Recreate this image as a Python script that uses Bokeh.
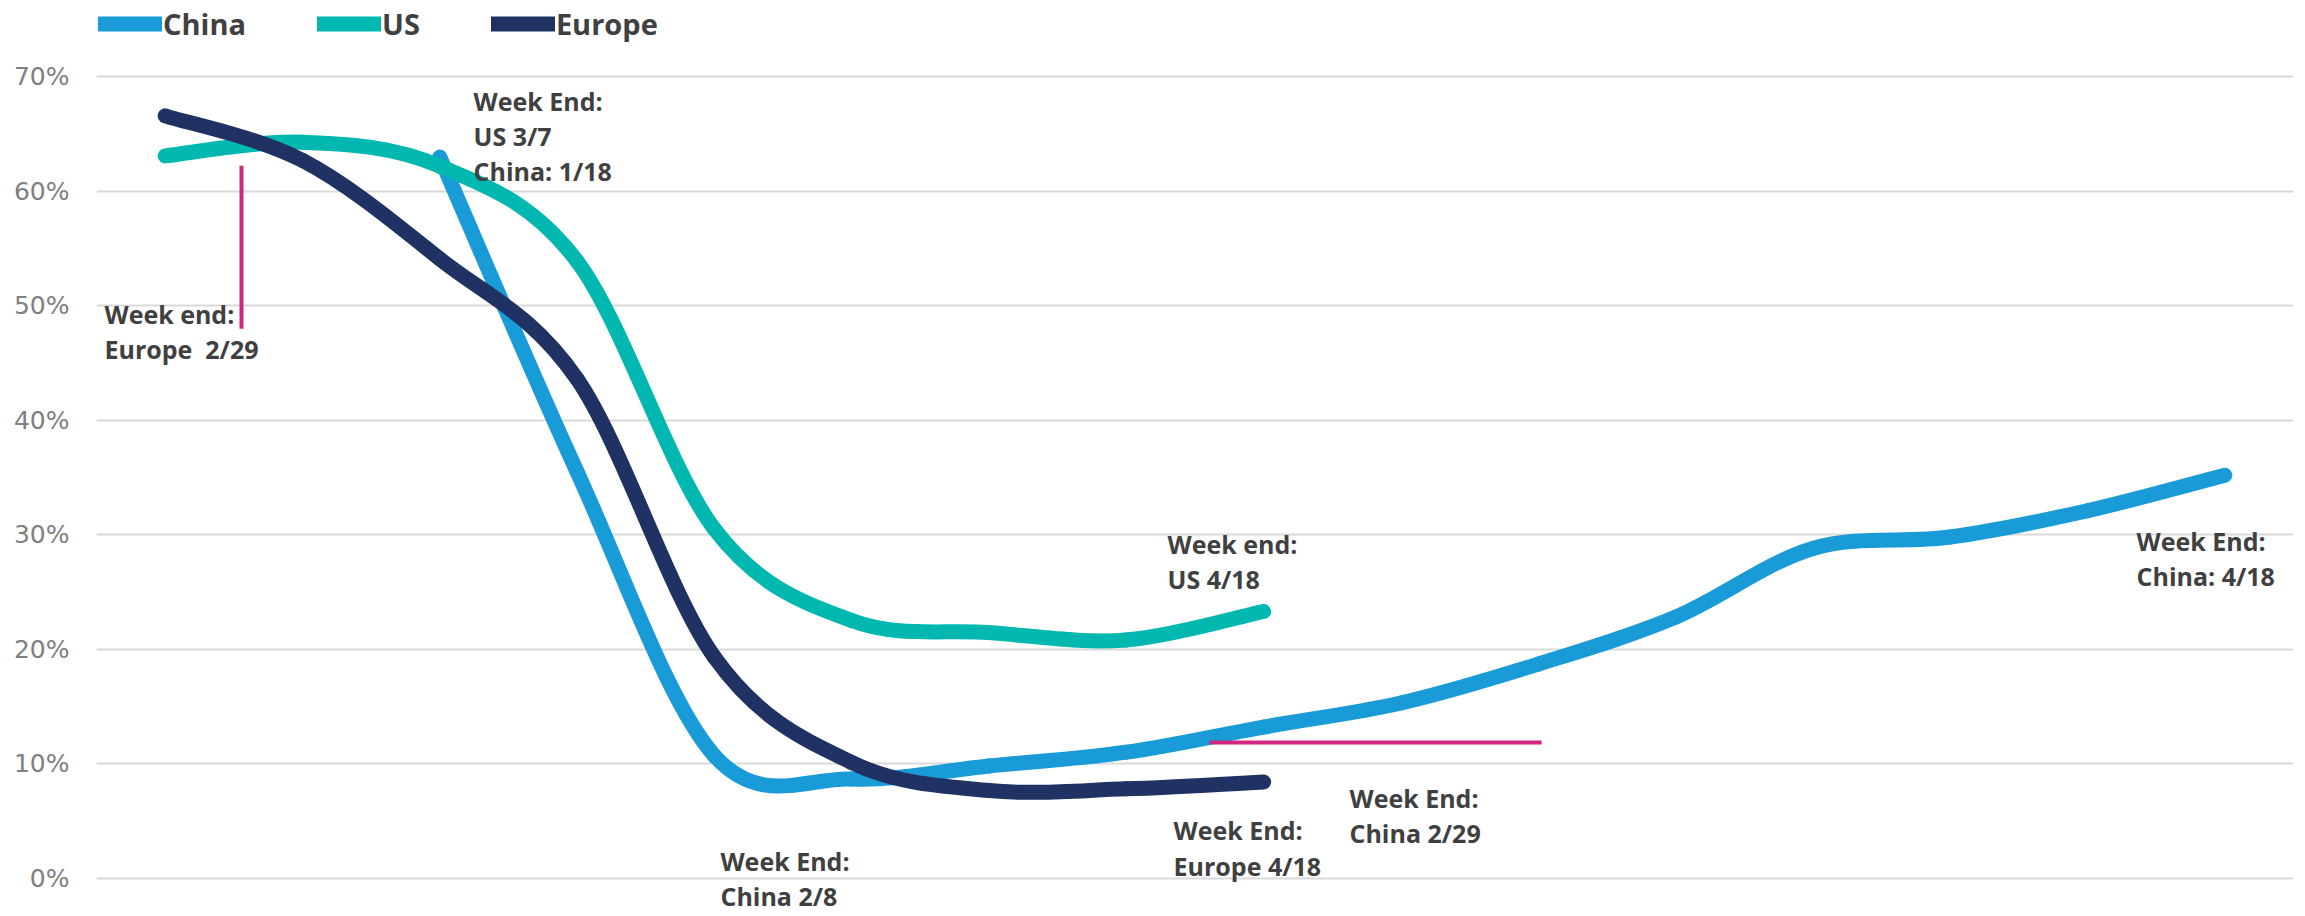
from bokeh.plotting import figure
from bokeh.models import (Range1d, FixedTicker, NumeralTickFormatter, Label,
                          Legend, LegendItem)
from bokeh.embed import file_html
from bokeh.resources import INLINE

# Weekly share, one slot per week on a shared category axis
weeks = list(range(16))
china = [None, None, 0.630, 0.355, 0.107, 0.0865, 0.098, 0.110, 0.132, 0.153,
         0.187, 0.228, 0.288, 0.298, 0.321, 0.352]
us = [0.631, 0.643, 0.622, 0.539, 0.305, 0.225, 0.2145, 0.208, 0.233]
europe = [0.666, 0.627, 0.541, 0.436, 0.193, 0.101, 0.0765, 0.078, 0.084]

series_names = ["China", "US", "Europe"]
series_colors = ["#189bd6", "#00b8b0", "#203264"]
y_ticks = [0.0, 0.1, 0.2, 0.3, 0.4, 0.5, 0.6, 0.7]

# Callout texts: (x, first baseline, lines)
callouts = [
    (2.246, 0.6793, ["Week End:", "US 3/7", "China: 1/18"]),
    (-0.442, 0.4932, ["Week end:", "Europe\u00a0 2/29"]),
    (7.300, 0.2923, ["Week end:", "US 4/18"]),
    (7.344, 0.0416, ["Week End:", "Europe 4/18"]),
    (8.625, 0.0704, ["Week End:", "China 2/29"]),
    (4.044, 0.0150, ["Week End:", "China 2/8"]),
    (14.357, 0.2949, ["Week End:", "China: 4/18"]),
]
line_step = 0.0306

# Magenta marker rules
marker_x0 = [0.556, 7.606]
marker_y0 = [0.480, 0.1184]
marker_x1 = [0.556, 10.024]
marker_y1 = [0.6224, 0.1184]

p = figure(width=2305, height=916, output_backend="svg", toolbar_location=None,
           x_range=Range1d(-0.5, 15.5), y_range=Range1d(-0.03355, 0.76675),
           x_axis_location=None, min_border_left=96, min_border_right=12,
           min_border_top=0, min_border_bottom=0)
p.outline_line_color = None
p.background_fill_color = "white"
p.border_fill_color = "white"

p.xgrid.visible = False
p.ygrid.grid_line_color = "#d9d9d9"
p.ygrid.grid_line_width = 2
p.yaxis.ticker = FixedTicker(ticks=y_ticks)
p.yaxis.formatter = NumeralTickFormatter(format="0%")
p.yaxis.axis_line_color = None
p.yaxis.major_tick_line_color = None
p.yaxis.minor_tick_line_color = None
p.yaxis.major_label_standoff = 21
p.yaxis.major_label_text_font = "DejaVu Sans"
p.yaxis.major_label_text_font_size = "25px"
p.yaxis.major_label_text_color = "#808080"


def smooth_segments(xs, ys):
    """Cubic Bezier segments (Catmull-Rom style) through the given points."""
    pts = [(x, y) for x, y in zip(xs, ys) if y is not None]
    seg = dict(x0=[], y0=[], x1=[], y1=[], cx0=[], cy0=[], cx1=[], cy1=[])
    n = len(pts)
    for i in range(n - 1):
        p0 = pts[i - 1] if i > 0 else pts[i]
        p1 = pts[i]
        p2 = pts[i + 1]
        p3 = pts[i + 2] if i + 2 < n else pts[i + 1]
        seg["x0"].append(p1[0]); seg["y0"].append(p1[1])
        seg["x1"].append(p2[0]); seg["y1"].append(p2[1])
        seg["cx0"].append(p1[0] + (p2[0] - p0[0]) / 6)
        seg["cy0"].append(p1[1] + (p2[1] - p0[1]) / 6)
        seg["cx1"].append(p2[0] - (p3[0] - p1[0]) / 6)
        seg["cy1"].append(p2[1] - (p3[1] - p1[1]) / 6)
    return seg


legend_items = []
for name, color, values in zip(series_names, series_colors, [china, us, europe]):
    seg = smooth_segments(weeks[:len(values)], values)
    r = p.bezier(line_color=color, line_width=15, line_cap="round", **seg)
    legend_items.append(LegendItem(label=name, renderers=[r]))

p.segment(x0=marker_x0, y0=marker_y0, x1=marker_x1, y1=marker_y1,
          line_color="#d2267f", line_width=4)

for x, y, lines in callouts:
    for k, txt in enumerate(lines):
        p.add_layout(Label(x=x, y=y - k * line_step, text=txt,
                           text_font="Open Sans", text_font_style="bold",
                           text_font_size="25px", text_color="#404040",
                           text_baseline="alphabetic", text_align="left"))

legend = Legend(items=legend_items, orientation="horizontal",
                location=(2, 869), margin=0, padding=0, spacing=71,
                glyph_width=64, glyph_height=47, label_height=47,
                label_standoff=1, label_text_font="Open Sans",
                label_text_font_style="bold", label_text_font_size="29px",
                label_text_color="#404040", border_line_color=None,
                background_fill_alpha=0)
p.add_layout(legend)

open("out.html", "w").write(file_html(p, INLINE))
